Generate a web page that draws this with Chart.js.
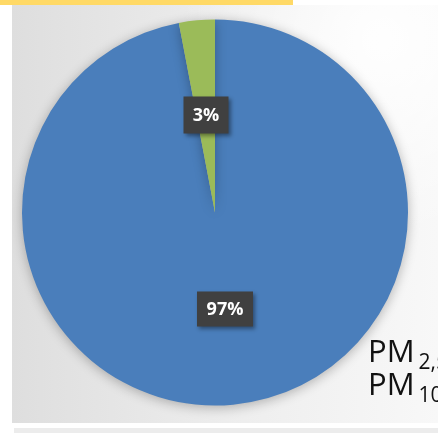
<!DOCTYPE html>
<html><head><meta charset="utf-8">
<script src="https://cdn.jsdelivr.net/npm/chart.js@4"></script>
<style>
html,body{margin:0;padding:0;background:#fff;overflow:hidden;width:438px;height:433px;}
#wrap{position:relative;width:438px;height:433px;overflow:hidden;}
canvas{position:absolute;left:0;top:0;}
#pm{position:absolute;left:368px;top:334px;font-family:"Open Sans","Noto Sans",sans-serif;font-size:31px;line-height:33px;color:#111;white-space:nowrap;}
#pm sub{font-size:21px;line-height:0;vertical-align:-7px;margin-left:4px;}
</style></head>
<body><div id="wrap"><canvas id="c" width="438" height="433"></canvas>
<div id="pm">PM<sub>2,5</sub><br>PM<sub>10</sub></div></div>
<script>
const categories = ["PM10", "PM2,5"];
const values = [97, 3];
const labels = ["97%", "3%"];
const colors = ["#4a7ebb", "#9bbb59"];

const bgPlugin = {
  id: 'bg',
  beforeDraw(chart) {
    const ctx = chart.ctx;
    ctx.save();
    ctx.fillStyle = '#ffffff';
    ctx.fillRect(0, 0, 438, 433);
    let g = ctx.createLinearGradient(12, 0, 438, 0);
    g.addColorStop(0, '#dedede');
    g.addColorStop(0.5, '#ededed');
    g.addColorStop(1, '#f8f8f8');
    ctx.fillStyle = g;
    ctx.fillRect(12, 5, 426, 418);
    let r = ctx.createRadialGradient(380, 40, 10, 380, 40, 200);
    r.addColorStop(0, 'rgba(255,255,255,0.9)');
    r.addColorStop(1, 'rgba(255,255,255,0)');
    ctx.fillStyle = r;
    ctx.fillRect(12, 5, 426, 418);
    ctx.fillStyle = '#ececec';
    ctx.fillRect(14, 428, 424, 5);
    ctx.fillStyle = '#ffd966';
    ctx.fillRect(0, 0, 293, 5);
    ctx.restore();
  },
  beforeDatasetsDraw(chart) {
    const ctx = chart.ctx;
    ctx.save();
    ctx.shadowColor = 'rgba(0,0,0,0.28)';
    ctx.shadowBlur = 12;
    ctx.shadowOffsetX = 0;
    ctx.shadowOffsetY = 2;
  },
  afterDatasetsDraw(chart) {
    chart.ctx.restore();
    const ctx = chart.ctx;
    const meta = chart.getDatasetMeta(0);
    const offs = [[10, 96.5], [-9, -97.5]];
    const sizes = [[56, 35], [45, 37]];
    meta.data.forEach((arc, i) => {
      const p = arc.getProps(['x','y'], true);
      const x = p.x + offs[i][0], y = p.y + offs[i][1];
      const w = sizes[i][0], h = sizes[i][1];
      ctx.save();
      ctx.font = 'bold 18px "Open Sans", "Noto Sans", sans-serif';
      ctx.shadowColor = 'rgba(0,0,0,0.4)';
      ctx.shadowBlur = 4; ctx.shadowOffsetX = 2; ctx.shadowOffsetY = 2;
      ctx.fillStyle = '#404040';
      ctx.fillRect(x - w/2, y - h/2, w, h);
      ctx.shadowColor = 'transparent';
      ctx.fillStyle = '#ffffff';
      ctx.textAlign = 'center'; ctx.textBaseline = 'middle';
      ctx.fillText(labels[i], x, y + 1);
      ctx.restore();
    });
  }
};

new Chart(document.getElementById('c'), {
  type: 'pie',
  data: { labels: categories, datasets: [{ data: values, backgroundColor: colors, borderWidth: 0 }] },
  options: {
    responsive: false, animation: false,
    layout: { padding: { left: 22, right: 30, top: 19, bottom: 27 } },
    plugins: { legend: { display: false }, tooltip: { enabled: false } }
  },
  plugins: [bgPlugin]
});
</script></body></html>
